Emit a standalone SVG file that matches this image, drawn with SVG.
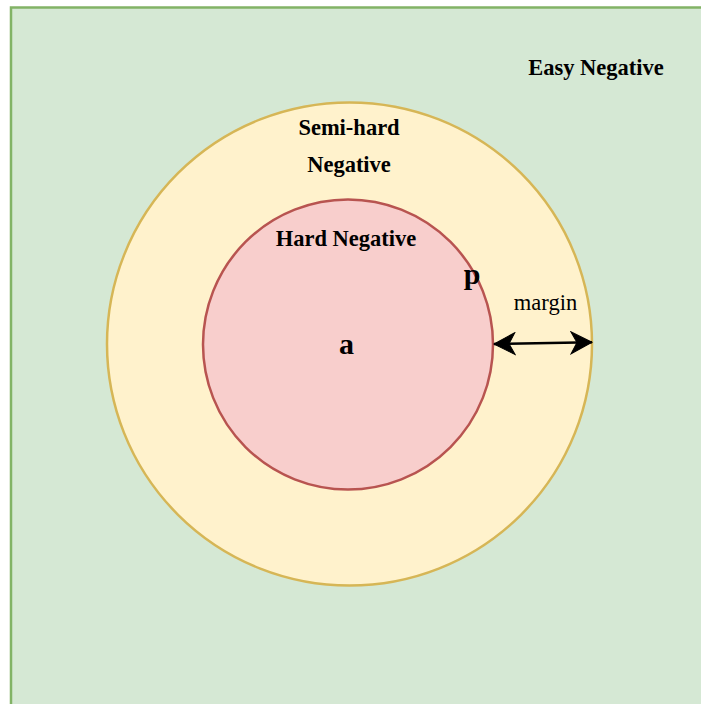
<svg xmlns="http://www.w3.org/2000/svg" width="701" height="704" viewBox="0 0 701 704">
<defs>
<style>
.lbl{font-family:"Liberation Serif","Times New Roman",serif;font-weight:bold;font-size:22.5px;fill:#000;text-anchor:middle}
.big{font-size:30px}
.reg{font-weight:normal}
</style>
<marker id="arr" markerUnits="userSpaceOnUse" viewBox="-22 -12 24 24" refX="0" refY="0" markerWidth="24" markerHeight="24" orient="auto-start-reverse">
<path d="M0,0 L-21,-11 L-15,0 L-21,11 Z" fill="#000" stroke="#000" stroke-width="1" stroke-linejoin="miter"/>
</marker>
</defs>
<rect width="701" height="704" fill="#ffffff"/>
<g id="easy">
<rect x="11" y="7.5" width="700" height="710" fill="#d5e8d4" stroke="#82b366" stroke-width="2.5"/>
<text class="lbl" x="596" y="75">Easy Negative</text>
</g>
<g id="semihard">
<ellipse cx="349.5" cy="344" rx="242.5" ry="241.5" fill="#fff2cc" stroke="#d6b656" stroke-width="2.5"/>
<text class="lbl" x="349" y="134.5">Semi-hard</text>
<text class="lbl" x="349" y="171.5">Negative</text>
</g>
<g id="hard">
<circle cx="348" cy="344.5" r="145" fill="#f8cecc" stroke="#b85450" stroke-width="2.5"/>
<text class="lbl" x="346" y="246">Hard Negative</text>
</g>
<g id="p"><text class="lbl big" x="472" y="283.5">p</text></g>
<g id="a"><text class="lbl big" x="346.5" y="353.5">a</text></g>
<g id="connectors">
<line x1="494" y1="344" x2="592" y2="342.3" stroke="#000" stroke-width="2.5" marker-start="url(#arr)" marker-end="url(#arr)"/>
<text class="lbl reg" x="545.5" y="310">margin</text>
</g>
</svg>
